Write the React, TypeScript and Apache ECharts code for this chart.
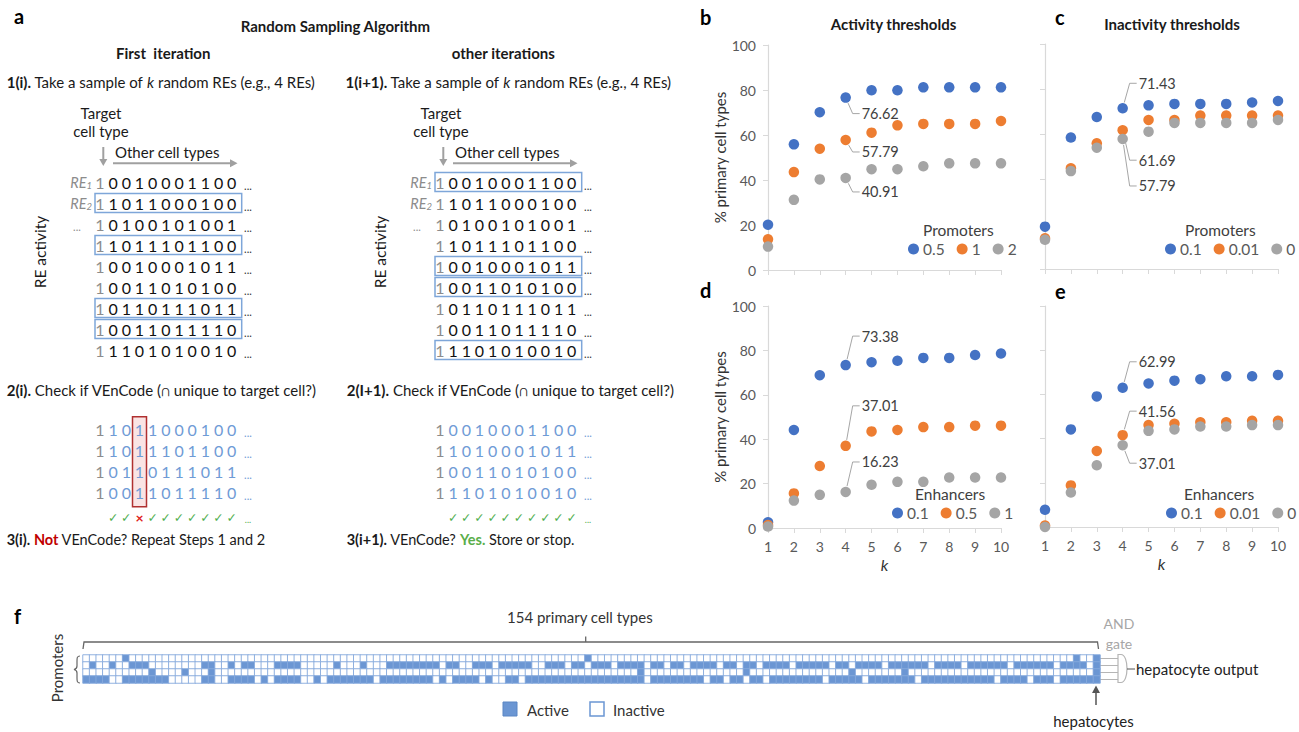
import { useEffect, useRef } from 'react';
import * as echarts from 'echarts';

const FONT = 'Lato, "Noto Sans", "DejaVu Sans", sans-serif';

// ---------- Panels b–e : % primary cell types vs k ----------
const kValues = [1, 2, 3, 4, 5, 6, 7, 8, 9, 10];
// b: Activity thresholds, promoters
const actPromoters05 = [20.13, 55.84, 70.13, 76.62, 79.87, 79.87, 81.17, 81.17, 81.17, 81.17];
const actPromoters1 = [13.64, 43.51, 53.9, 57.79, 61.04, 64.29, 64.94, 64.94, 64.94, 66.23];
const actPromoters2 = [10.39, 31.17, 40.26, 40.91, 44.81, 44.81, 46.1, 47.4, 47.4, 47.4];
// c: Inactivity thresholds, promoters
const inactPromoters01 = [18.83, 58.44, 67.53, 71.43, 72.73, 73.38, 73.38, 73.38, 74.03, 74.68];
const inactPromoters001 = [13.64, 44.81, 55.84, 61.69, 66.23, 66.23, 68.18, 68.18, 68.18, 68.18];
const inactPromoters0 = [12.99, 43.51, 53.9, 57.79, 61.04, 64.94, 64.94, 64.94, 64.94, 66.23];
// d: Activity thresholds, enhancers
const actEnhancers01 = [2.6, 44.16, 68.83, 73.38, 74.68, 75.32, 76.62, 76.62, 77.92, 78.57];
const actEnhancers05 = [1.3, 15.58, 27.92, 37.01, 43.51, 44.16, 45.45, 45.45, 46.1, 46.1];
const actEnhancers1 = [0.65, 12.34, 14.94, 16.23, 19.48, 20.78, 20.78, 22.73, 22.73, 22.73];
// e: Inactivity thresholds, enhancers
const inactEnhancers01 = [7.79, 44.16, 59.09, 62.99, 64.94, 66.23, 66.88, 68.18, 68.18, 68.83];
const inactEnhancers001 = [0.65, 18.83, 34.42, 41.56, 46.1, 46.75, 47.4, 47.4, 48.05, 48.05];
const inactEnhancers0 = [0, 15.58, 27.92, 37.01, 43.51, 44.16, 45.45, 45.45, 46.1, 46.1];

const legendNamesB = ['0.5', '1', '2'];
const legendNamesC = ['0.1', '0.01', '0'];
const legendNamesD = ['0.1', '0.5', '1'];
const legendNamesE = ['0.1', '0.01', '0'];
const yAxisMin = 0;
const yAxisMax = 100;
const yAxisStep = 20;

// callouts: series index, k, vertical offset of the label
const calloutsB = [{ s: 0, k: 4, dy: 16 }, { s: 1, k: 4, dy: 12 }, { s: 2, k: 4, dy: 14 }];
const calloutsC = [{ s: 0, k: 4, dy: -25 }, { s: 1, k: 4, dy: 30 }, { s: 2, k: 4, dy: 47 }];
const calloutsD = [{ s: 0, k: 4, dy: -29 }, { s: 1, k: 4, dy: -40 }, { s: 2, k: 4, dy: -30 }];
const calloutsE = [{ s: 0, k: 4, dy: -26 }, { s: 1, k: 4, dy: -24 }, { s: 2, k: 4, dy: 18 }];

// ---------- Panel a : RE activity matrix ----------
const reRows = ['10010001100', '11011000100', '10100101001', '11011101100', '10010001011', '10011010100', '10110111011', '10011011110', '11101010010'];
const firstPicked = [1, 3, 6, 7];
const otherPicked = [0, 4, 5, 8];
const firstCheckRows = ['11011000100', '11011101100', '10110111011', '10011011110'];
const otherCheckRows = ['10010001100', '11010001011', '10011010100', '11101010010'];
const firstUnique = [1, 1, 0, 1, 1, 1, 1, 1, 1, 1];
const otherUnique = [1, 1, 1, 1, 1, 1, 1, 1, 1, 1];

// ---------- Panel f : promoter activity over 154 primary cell types ----------
const heatRow1 = ['0000001000', '0000000000', '0000000000', '0000000000', '0000000000', '0000000000', '0000000000', '0000001000', '0000000000', '0000000000', '0000000000', '0000000000', '0000000000', '0000000000', '0000000000', '1001'].join('');
const heatRow2 = ['0100100111', '0000000011', '0010110001', '1110000010', '0010001111', '1111011001', '1101111100', '1110110111', '0111101101', '1011110110', '1101111011', '1110110111', '1011111101', '1110111111', '0111111011', '1101'].join('');
const heatRow3 = ['0000000000', '1000010001', '0000000000', '0000000000', '0000000000', '0000000000', '0000000000', '0000000000', '0000100000', '0000000000', '1000000000', '0000001000', '0000100000', '0000000000', '0000000000', '0001'].join('');
const heatRow4 = ['1111001111', '1110000011', '0011110101', '1110010111', '1111011111', '1110101111', '0100110111', '1111111111', '1111101111', '1111011011', '0110111111', '1101111101', '1111110111', '1111111101', '1110111011', '1111'].join('');
const heatRows = [heatRow1, heatRow2, heatRow3, heatRow4];
const cellTypeCount = 154;

const COLORS = ['#4472C4', '#ED7D31', '#A5A5A5'];
const BLUE_CELL = '#6b96d3';

echarts.graphic.registerShape('andGate', echarts.graphic.extendPath('M0 0 H3 C11 0 11 28 3 28 H0 Z', {}) as any);
echarts.graphic.registerShape('brace', echarts.graphic.extendPath('M6 0 C3 0 3 2 3 5 V10 C3 12 2 13 0 13.5 C2 14 3 15 3 17 V22 C3 25 3 27 6 27', {}) as any);

type Callout = { s: number; k: number; dy: number };
const panels = [
  { letter: 'b', series: [actPromoters05, actPromoters1, actPromoters2], names: legendNamesB, group: 'Promoters', grid: { left: 768, top: 45, width: 233, height: 225 }, showX: false, showY: true, legend: [908, 241], groupPos: [923, 230], callouts: calloutsB as Callout[] },
  { letter: 'c', series: [inactPromoters01, inactPromoters001, inactPromoters0], names: legendNamesC, group: 'Promoters', grid: { left: 1045, top: 44, width: 233, height: 225 }, showX: false, showY: false, legend: [1165, 241], groupPos: [1185, 230], callouts: calloutsC as Callout[] },
  { letter: 'd', series: [actEnhancers01, actEnhancers05, actEnhancers1], names: legendNamesD, group: 'Enhancers', grid: { left: 768, top: 306, width: 233, height: 222 }, showX: true, showY: true, legend: [892, 505], groupPos: [915, 494], callouts: calloutsD as Callout[] },
  { letter: 'e', series: [inactEnhancers01, inactEnhancers001, inactEnhancers0], names: legendNamesE, group: 'Enhancers', grid: { left: 1045, top: 306, width: 233, height: 221 }, showX: true, showY: false, legend: [1166, 505], groupPos: [1184, 494], callouts: calloutsE as Callout[] },
];

function txt(x: number, y: number, text: string, o: any = {}) {
  return {
    type: 'text', x, y, rotation: o.rotation || 0, silent: true,
    style: {
      text, fontFamily: FONT, fontSize: o.size || 14, fontWeight: o.weight || 'normal', fontStyle: o.style || 'normal',
      fill: o.fill || '#1a1a1a', align: o.align || 'left', verticalAlign: 'middle', rich: o.rich,
    },
  };
}

function richStyles(size: number) {
  const base = { fontFamily: FONT, fontSize: size, fill: '#1a1a1a' };
  return {
    b: { ...base, fontWeight: 'bold' },
    n: { ...base },
    i: { ...base, fontStyle: 'italic' },
    r: { ...base, fontWeight: 'bold', fill: '#c00000' },
    g: { ...base, fontWeight: 'bold', fill: '#5aae4a' },
    re: { fontFamily: FONT, fontSize: 14.5, fontStyle: 'italic', fill: '#8c8c8c' },
    sub: { fontFamily: FONT, fontSize: 9.5, fontStyle: 'italic', fill: '#8c8c8c', verticalAlign: 'bottom', padding: [6, 0, 0, 0] },
  };
}

const STEP = 13.17;
const ROW_Y0 = 182;
const ROW_DY = 21;
const CHECK_Y0 = 429.5;

function buildPanelA() {
  const els: any[] = [];
  const rs = richStyles(15);
  const rs3 = richStyles(14.5);
  els.push(txt(14, 16, 'a', { size: 20, weight: 'bold', fill: '#000' }));
  els.push(txt(240.7, 26, 'Random Sampling Algorithm', { size: 15, weight: 'bold' }));
  els.push(txt(116, 53, 'First  iteration', { size: 15, weight: 'bold' }));
  els.push(txt(451.7, 53, 'other iterations', { size: 15, weight: 'bold' }));
  els.push(txt(6.7, 82, '{b|1(i).}{n| Take a sample of }{i|k}{n| random REs (e.g., 4 REs)}', { rich: rs }));
  els.push(txt(345.5, 82, '{b|1(i+1).}{n| Take a sample of }{i|k}{n| random REs (e.g., 4 REs)}', { rich: rs }));
  els.push(txt(6.7, 389.5, '{b|2(i).}{n| Check if VEnCode (∩ unique to target cell?)}', { rich: rs }));
  els.push(txt(346.7, 389.5, '{b|2(I+1).}{n| Check if VEnCode (∩ unique to target cell?)}', { rich: rs }));
  els.push(txt(6.7, 539.5, '{b|3(i).}{n| }{r|Not}{n| VEnCode? Repeat Steps 1 and 2}', { rich: rs3 }));
  els.push(txt(346.7, 539.5, '{b|3(i+1).}{n| VEnCode? }{g|Yes.}{n| Store or stop.}', { rich: rs3 }));

  [0, 340].forEach((ox, side) => {
    const x0 = 100 + ox;
    els.push(txt(101 + ox, 113, 'Target', { size: 15, align: 'center' }));
    els.push(txt(101 + ox, 131, 'cell type', { size: 15, align: 'center' }));
    els.push(txt(115 + ox, 152, 'Other cell types', { size: 15 }));
    // arrows
    els.push({ type: 'line', silent: true, shape: { x1: 103.3 + ox, y1: 147, x2: 103.3 + ox, y2: 160 }, style: { stroke: '#a0a0a0', lineWidth: 2 } });
    els.push({ type: 'polygon', silent: true, shape: { points: [[99.3 + ox, 159], [107.3 + ox, 159], [103.3 + ox, 166]] }, style: { fill: '#a0a0a0' } });
    els.push({ type: 'line', silent: true, shape: { x1: 113 + ox, y1: 163.3, x2: 231 + ox, y2: 163.3 }, style: { stroke: '#a0a0a0', lineWidth: 2 } });
    els.push({ type: 'polygon', silent: true, shape: { points: [[230 + ox, 159.3], [230 + ox, 167.3], [237.5 + ox, 163.3]] }, style: { fill: '#a0a0a0' } });
    els.push(txt(40 + ox, 252, 'RE activity', { size: 15.5, align: 'center', rotation: Math.PI / 2 }));
    els.push(txt(92 + ox, ROW_Y0, '{re|RE}{sub|1}', { align: 'right', rich: rs }));
    els.push(txt(92 + ox, ROW_Y0 + ROW_DY, '{re|RE}{sub|2}', { align: 'right', rich: rs }));
    els.push(txt(77 + ox, ROW_Y0 + 2 * ROW_DY + 2, '...', { size: 11, align: 'center', fill: '#8c8c8c' }));
    const picked = side === 0 ? firstPicked : otherPicked;
    reRows.forEach((row, r) => {
      const y = ROW_Y0 + r * ROW_DY;
      if (picked.includes(r)) {
        els.push({ type: 'rect', silent: true, shape: { x: 95 + ox, y: y - 9.5, width: 146.7, height: 19 }, style: { fill: 'none', stroke: '#7ea6d9', lineWidth: 1.5 } });
      }
      row.split('').forEach((d, i) => {
        els.push(txt(x0 + i * STEP, y, d, { size: 16, align: 'center', fill: i === 0 ? '#8c8c8c' : '#111' }));
      });
      els.push(txt(248 + ox, y + 3, '...', { size: 11, align: 'center', fill: '#333' }));
    });
    // step 2 rows
    if (side === 0) {
      els.push({ type: 'rect', silent: true, shape: { x: x0 + 3 * STEP - 7, y: 416.7, width: 14, height: 90 }, style: { fill: 'rgba(232,120,120,0.2)', stroke: '#b03030', lineWidth: 1.5 } });
    }
    const chk = side === 0 ? firstCheckRows : otherCheckRows;
    chk.forEach((row, r) => {
      const y = CHECK_Y0 + r * 21;
      row.split('').forEach((d, i) => {
        els.push(txt(x0 + i * STEP, y, d, { size: 16, align: 'center', fill: i === 0 ? '#8c8c8c' : '#6f9bd6' }));
      });
      els.push(txt(248 + ox, y + 3, '...', { size: 11, align: 'center', fill: '#6f9bd6' }));
    });
    const uniq = side === 0 ? firstUnique : otherUnique;
    uniq.forEach((u, i) => {
      const x = x0 + (i + 1) * STEP;
      if (u) els.push(txt(x, 517.5, '✓', { size: 12.5, align: 'center', fill: '#4fae4f' }));
      else els.push(txt(x, 517.5, '×', { size: 14, weight: 'bold', align: 'center', fill: '#e02020' }));
    });
    els.push(txt(248 + ox, 519, '...', { size: 9, align: 'center', fill: '#4fae4f' }));
  });
  return els;
}

function buildPanelLabels() {
  const els: any[] = [];
  els.push(txt(700, 17, 'b', { size: 20, weight: 'bold', fill: '#000' }));
  els.push(txt(1055, 17, 'c', { size: 20, weight: 'bold', fill: '#000' }));
  els.push(txt(700, 290, 'd', { size: 20, weight: 'bold', fill: '#000' }));
  els.push(txt(1055, 291, 'e', { size: 20, weight: 'bold', fill: '#000' }));
  els.push(txt(893.5, 24, 'Activity thresholds', { size: 15, weight: 'bold', align: 'center' }));
  els.push(txt(1172, 24, 'Inactivity thresholds', { size: 15, weight: 'bold', align: 'center' }));
  panels.forEach((p) => {
    els.push(txt(p.groupPos[0], p.groupPos[1], p.group, { size: 15.5, fill: '#404040' }));
  });
  return els;
}

function buildPanelF() {
  const els: any[] = [];
  els.push(txt(14, 616, 'f', { size: 20, weight: 'bold', fill: '#000' }));
  els.push(txt(507, 617, '154 primary cell types', { size: 15, fill: '#333' }));
  els.push({ type: 'polyline', silent: true, shape: { points: [[83, 649], [84, 642], [1097.5, 642], [1098.5, 649]] }, style: { stroke: '#666', lineWidth: 1.3, fill: 'none' } });
  els.push({ type: 'line', silent: true, shape: { x1: 585.7, y1: 642, x2: 585.7, y2: 636.5 }, style: { stroke: '#666', lineWidth: 1.3 } });
  els.push(txt(57, 668, 'Promoters', { size: 15, align: 'center', rotation: Math.PI / 2, fill: '#333' }));
  els.push({ type: 'brace', silent: true, x: 74, y: 656, style: { fill: 'none', stroke: '#666', lineWidth: 1.2 } });
  // legend
  els.push({ type: 'rect', silent: true, shape: { x: 503, y: 702, width: 14, height: 14 }, style: { fill: BLUE_CELL, stroke: '#5a86c4', lineWidth: 1 } });
  els.push(txt(527, 709.5, 'Active', { size: 15, fill: '#333' }));
  els.push({ type: 'rect', silent: true, shape: { x: 590, y: 702, width: 14, height: 14 }, style: { fill: '#fff', stroke: BLUE_CELL, lineWidth: 1.5 } });
  els.push(txt(613, 709.5, 'Inactive', { size: 15, fill: '#333' }));
  // AND gate
  els.push(txt(1119, 623, 'AND', { size: 14, align: 'center', fill: '#a6a6a6' }));
  els.push(txt(1119, 643, 'gate', { size: 14, align: 'center', fill: '#a6a6a6' }));
  [658.5, 665.5, 672.5, 679.5].forEach((y) => {
    els.push({ type: 'line', silent: true, shape: { x1: 1100, y1: y, x2: 1118, y2: y }, style: { stroke: '#b5b5b5', lineWidth: 1 } });
  });
  els.push({ type: 'andGate', silent: true, x: 1118, y: 654.5, style: { fill: '#fff', stroke: '#b5b5b5', lineWidth: 1.2 } });
  els.push({ type: 'line', silent: true, shape: { x1: 1127, y1: 669, x2: 1135, y2: 669 }, style: { stroke: '#555', lineWidth: 1 } });
  els.push(txt(1136, 669, 'hepatocyte output', { size: 15, fill: '#222' }));
  els.push({ type: 'line', silent: true, shape: { x1: 1096, y1: 705, x2: 1096, y2: 692 }, style: { stroke: '#555', lineWidth: 1.5 } });
  els.push({ type: 'polygon', silent: true, shape: { points: [[1092, 693], [1100, 693], [1096, 685.5]] }, style: { fill: '#555' } });
  els.push(txt(1093.5, 721, 'hepatocytes', { size: 15, align: 'center', fill: '#222' }));
  return els;
}

function buildOption(baseGraphics: any[]) {
  const grids: any[] = panels.map((p) => ({ ...p.grid, containLabel: false }));
  grids.push({ left: 83, top: 655, width: 1017, height: 28 });
  const axisLineColor = '#d9d9d9';
  const xAxes: any[] = panels.map((p, i) => ({
    gridIndex: i, type: 'value', min: 1, max: 10, interval: 1,
    axisLine: { show: true, onZero: false, lineStyle: { color: axisLineColor, width: 1.2 } },
    axisTick: { show: true, length: 5, lineStyle: { color: axisLineColor } },
    axisLabel: { show: p.showX, color: '#595959', fontSize: 14, fontFamily: FONT, margin: 11 },
    splitLine: { show: false },
    name: p.showX ? 'k' : '', nameLocation: 'middle', nameGap: 28,
    nameTextStyle: { fontStyle: 'italic', fontSize: 16, color: '#333', fontFamily: FONT },
  }));
  const yAxes: any[] = panels.map((p, i) => ({
    gridIndex: i, type: 'value', min: yAxisMin, max: yAxisMax, interval: yAxisStep,
    axisLine: { show: true, lineStyle: { color: axisLineColor, width: 1.2 } },
    axisTick: { show: true, length: 5, lineStyle: { color: axisLineColor } },
    axisLabel: { show: p.showY, color: '#595959', fontSize: 14, fontFamily: FONT, margin: 12 },
    splitLine: { show: false },
    name: p.showY ? '% primary cell types' : '', nameLocation: 'middle', nameRotate: 90, nameGap: 34,
    nameTextStyle: { fontSize: 15, color: '#333', fontFamily: FONT },
  }));
  xAxes.push({ gridIndex: 4, type: 'category', data: Array.from({ length: cellTypeCount }, (_, i) => String(i + 1)), show: false });
  yAxes.push({ gridIndex: 4, type: 'category', data: ['1', '2', '3', '4'], inverse: true, show: false });

  const series: any[] = [];
  panels.forEach((p, gi) => {
    p.series.forEach((vals, si) => {
      series.push({
        type: 'scatter', name: p.letter + ':' + p.names[si], xAxisIndex: gi, yAxisIndex: gi,
        symbol: 'circle', symbolSize: 10.5, itemStyle: { color: COLORS[si], opacity: 1 },
        data: kValues.map((k, j) => [k, vals[j]]),
      });
    });
  });
  const heatData: number[][] = [];
  heatRows.forEach((row, r) => {
    row.split('').forEach((c, col) => heatData.push([col, r, Number(c)]));
  });
  series.push({
    type: 'heatmap', name: 'promoter activity', xAxisIndex: 4, yAxisIndex: 4, data: heatData,
    itemStyle: { borderColor: '#86a9dc', borderWidth: 0.9 }, emphasis: { disabled: true },
  });

  const legends = panels.map((p) => ({
    data: p.names.map((n) => p.letter + ':' + n), left: p.legend[0], top: p.legend[1], orient: 'horizontal',
    width: 260, icon: 'circle', itemWidth: 11, itemHeight: 11, itemGap: 12, padding: 0, selectedMode: false,
    formatter: (n: string) => n.split(':')[1],
    textStyle: { fontSize: 15.5, color: '#595959', fontFamily: FONT, padding: [0, 0, 0, -1] },
  }));

  return {
    animation: false,
    backgroundColor: '#ffffff',
    textStyle: { fontFamily: FONT },
    grid: grids, xAxis: xAxes, yAxis: yAxes, series, legend: legends,
    visualMap: {
      type: 'piecewise', show: false, seriesIndex: series.length - 1, dimension: 2,
      pieces: [{ value: 0, color: '#ffffff' }, { value: 1, color: BLUE_CELL }],
    },
    graphic: { elements: baseGraphics },
  };
}

function buildCallouts(chart: any) {
  const els: any[] = [];
  panels.forEach((p, gi) => {
    p.callouts.forEach((c) => {
      const v = p.series[c.s][c.k - 1];
      const [px, py] = chart.convertToPixel({ gridIndex: gi }, [c.k, v]);
      const bx = px + 7, by = py + c.dy;
      const len = Math.hypot(bx - px, by - py) || 1;
      const sx = px + ((bx - px) / len) * 6, sy = py + ((by - py) / len) * 6;
      els.push({ type: 'polyline', silent: true, shape: { points: [[sx, sy], [bx, by], [px + 14, by]] }, style: { stroke: '#a6a6a6', lineWidth: 1, fill: 'none' } });
      els.push(txt(px + 16, by, v.toFixed(2), { size: 14.5, fill: '#404040' }));
    });
  });
  return els;
}

export default function App() {
  const ref = useRef<HTMLDivElement>(null);
  useEffect(() => {
    document.body.style.margin = '0';
    const chart = echarts.init(ref.current!, null, { renderer: 'svg' });
    const base = [...buildPanelA(), ...buildPanelLabels(), ...buildPanelF()];
    chart.setOption(buildOption(base));
    const callouts = buildCallouts(chart);
    chart.setOption({ graphic: { elements: [...base, ...callouts] } });
    return () => chart.dispose();
  }, []);
  return <div ref={ref} style={{ width: 1299, height: 732 }} />;
}
